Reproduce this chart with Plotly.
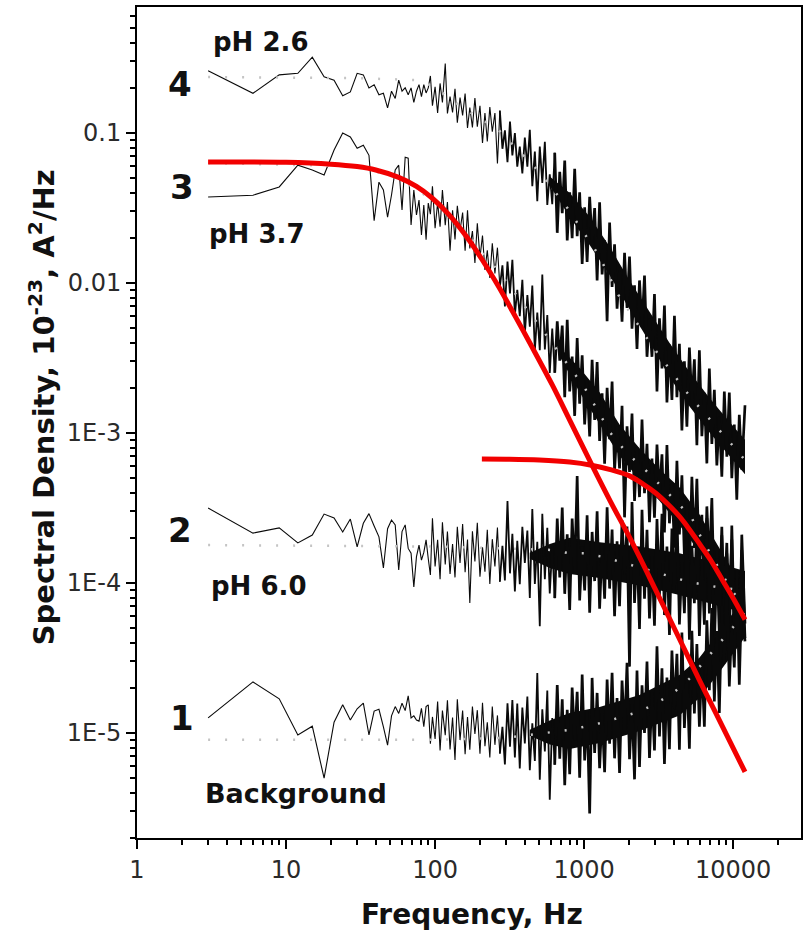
import plotly.graph_objects as go

# ---------------- data ----------------
FREQ_LOW = [3, 6, 9, 12, 15, 18, 21, 24, 27, 30, 33, 36, 39, 42, 45, 48, 51, 54, 57, 60,
            63, 66, 69, 72, 75, 78, 81, 84, 87, 90]
FREQ_HIGH = [93, 96, 100, 104, 108, 112, 117, 121, 126, 131, 136, 141, 147, 153, 159, 165, 171, 178, 185, 192,
             200, 208, 216, 224, 233, 242, 252, 262, 272, 283, 294, 306, 318, 330, 343, 356, 370, 385, 400, 416,
             432, 449, 467, 485, 504, 524, 545, 566, 588, 611, 635, 660, 686, 713, 741, 770, 800, 831, 864, 898,
             933, 970, 1008, 1047, 1089, 1131, 1176, 1222, 1270, 1320, 1372, 1426, 1482, 1540, 1600, 1663, 1728, 1796, 1867, 1940,
             2016, 2095, 2178, 2263, 2352, 2445, 2541, 2641, 2744, 2852, 2964, 3081, 3202, 3328, 3458, 3594, 3735, 3882, 4035, 4193,
             4358, 4529, 4707, 4892, 5084, 5284, 5492, 5707, 5932, 6165, 6407, 6659, 6920, 7192, 7475, 7769, 8074, 8391, 8721, 9064,
             9420, 9790, 10175, 10575, 10990, 11422, 12000]

# curve 4, pH 2.6
PH26_LOW = [0.26, 0.184, 0.244, 0.25, 0.32, 0.237, 0.225, 0.177, 0.188, 0.25, 0.244, 0.2, 0.21, 0.18, 0.184,
            0.147, 0.19, 0.17, 0.225, 0.19, 0.2, 0.18, 0.2, 0.16, 0.19, 0.21, 0.175, 0.21, 0.185, 0.2]
PH26_HIGH = [0.24, 0.152, 0.203, 0.136, 0.214, 0.16, 0.29, 0.135, 0.175, 0.137,
             0.197, 0.117, 0.172, 0.131, 0.183, 0.108, 0.148, 0.109, 0.171, 0.11,
             0.152, 0.0857, 0.136, 0.0877, 0.149, 0.102, 0.136, 0.0627, 0.141, 0.0785,
             0.104, 0.0638, 0.119, 0.0708, 0.1, 0.0596, 0.0813, 0.0537, 0.0933, 0.0596,
             0.105, 0.0442, 0.0752, 0.0351, 0.0813, 0.0465, 0.0875, 0.0331, 0.0531, 0.0335,
             0.0738, 0.0216, 0.0552, 0.0292, 0.0655, 0.0192, 0.0403, 0.0199, 0.0577, 0.0205,
             0.0402, 0.0134, 0.0319, 0.0138, 0.0376, 0.0185, 0.0316, 0.0104, 0.0345, 0.0114,
             0.0193, 0.00557, 0.0253, 0.00942, 0.0181, 0.00675, 0.0121, 0.00553, 0.0159, 0.00681,
             0.015, 0.00496, 0.00964, 0.00363, 0.0104, 0.00508, 0.0112, 0.00322, 0.00581, 0.00322,
             0.00843, 0.00189, 0.00582, 0.00269, 0.00708, 0.0016, 0.00389, 0.00166, 0.00605, 0.00173,
             0.00393, 0.00104, 0.00301, 0.0011, 0.00371, 0.0016, 0.0031, 0.000828, 0.00356, 0.000951,
             0.00185, 0.000627, 0.00269, 0.000846, 0.00194, 0.000608, 0.00129, 0.000512, 0.00189, 0.000695,
             0.00186, 0.000499, 0.00114, 0.000359, 0.00132, 0.00057, 0.00153]

# curve 3, pH 3.7
PH37_LOW = [0.0374, 0.0385, 0.0437, 0.061, 0.0567, 0.0525, 0.077, 0.1, 0.094, 0.079, 0.083, 0.071, 0.026, 0.047, 0.0417,
            0.0275, 0.0386, 0.0567, 0.061, 0.0307, 0.069, 0.068, 0.0244, 0.0417, 0.0284, 0.0357, 0.0209, 0.0331, 0.0194, 0.0341]
PH37_HIGH = [0.0288, 0.0442, 0.0232, 0.0343, 0.0237, 0.0417, 0.0243, 0.0347, 0.0164, 0.0305,
             0.0195, 0.0327, 0.0224, 0.0295, 0.0164, 0.0305, 0.017, 0.0222, 0.0136, 0.025,
             0.0148, 0.0207, 0.0122, 0.0165, 0.0108, 0.0184, 0.0116, 0.0172, 0.00944, 0.0131,
             0.00698, 0.0139, 0.00851, 0.0143, 0.00614, 0.00902, 0.00601, 0.0105, 0.00454, 0.0083,
             0.00512, 0.00962, 0.00356, 0.00635, 0.00357, 0.0114, 0.0036, 0.00611, 0.00251, 0.00497,
             0.00252, 0.00555, 0.00304, 0.0052, 0.00173, 0.00569, 0.00189, 0.00323, 0.0013, 0.0043,
             0.00157, 0.0033, 0.00114, 0.00222, 0.000947, 0.00308, 0.00122, 0.00297, 0.000884, 0.00184,
             0.000624, 0.002, 0.000908, 0.0022, 0.000564, 0.0011, 0.000581, 0.00152, 0.000274, 0.00111,
             0.000551, 0.00135, 0.000352, 0.000804, 0.000374, 0.00123, 0.000397, 0.000846, 0.000254, 0.000675,
             0.000272, 0.000836, 0.000389, 0.00072, 0.000217, 0.00083, 0.00025, 0.00046, 0.000172, 0.000653,
             0.000211, 0.000522, 0.000149, 0.000337, 0.000124, 0.000511, 0.000171, 0.000495, 0.000117, 0.000285,
             7.98e-5, 0.000324, 0.000128, 0.000369, 7.31e-5, 0.000163, 7.62e-5, 0.000237, 4.66e-5, 0.000158,
             6.76e-5, 0.000195, 3.86e-5, 0.000102, 4.02e-5, 0.000166, 4.29e-5]

# curve 2, pH 6.0
PH60_LOW = [3.16e-4, 2.15e-4, 2.33e-4, 1.85e-4, 2.09e-4, 2.88e-4, 2.71e-4, 2.19e-4, 2.67e-4, 1.74e-4,
            2.5e-4, 2.9e-4, 2.4e-4, 2.03e-4, 1.26e-4, 2.3e-4, 2.63e-4, 2.44e-4, 1.22e-4, 2.2e-4,
            2.44e-4, 1.7e-4, 1.58e-4, 9.4e-5, 1.5e-4, 1.79e-4, 1.42e-4, 1.6e-4, 1.94e-4, 1.45e-4]
PH60_HIGH = [1.13e-4, 2.7e-4, 1.29e-4, 1.94e-4, 1.06e-4, 2.54e-4, 1.33e-4, 2.2e-4, 1.15e-4, 1.82e-4,
             1.09e-4, 2.37e-4, 1.36e-4, 2.47e-4, 1.18e-4, 1.95e-4, 7.36e-5, 2.21e-4, 1.39e-4, 2.52e-4,
             1.1e-4, 1.73e-4, 1.19e-4, 2.26e-4, 9.86e-5, 1.96e-4, 1.29e-4, 2.34e-4, 1.02e-4, 1.77e-4,
             1.04e-4, 3.52e-4, 1.16e-4, 2.13e-4, 8.79e-5, 1.91e-4, 9.8e-5, 2.37e-4, 1.36e-4, 2.24e-4,
             7.94e-5, 3.11e-4, 9.84e-5, 1.88e-4, 5.15e-5, 2.89e-4, 1.06e-4, 2.33e-4, 8.51e-5, 1.75e-4,
             7.93e-5, 2.69e-4, 1.09e-4, 3.19e-4, 8.47e-5, 2.11e-4, 6.61e-5, 2.69e-4, 1.17e-4, 5.16e-4,
             7.64e-5, 1.74e-4, 8.91e-5, 2.83e-4, 6.34e-5, 2.19e-4, 1.03e-4, 3.01e-4, 6.75e-5, 1.81e-4,
             7.87e-5, 3.2e-4, 9.18e-5, 2.27e-4, 6.0e-5, 1.9e-4, 7.0e-5, 2.62e-4, 1.14e-4, 2.38e-4,
             2.77e-5, 3.47e-4, 7.35e-5, 1.74e-4, 4.93e-5, 3.08e-4, 7.87e-5, 2.26e-4, 5.81e-5, 1.51e-4,
             5.19e-5, 2.67e-4, 8.28e-5, 2.89e-4, 6.11e-5, 1.75e-4, 4.5e-5, 2.31e-4, 8.71e-5, 3.04e-4,
             5.3e-5, 1.38e-4, 6.3e-5, 2.42e-4, 4.19e-5, 1.77e-4, 7.33e-5, 2.55e-4, 4.44e-5, 1.4e-4,
             5.27e-5, 2.7e-4, 6.27e-5, 1.79e-4, 3.78e-5, 1.45e-4, 4.49e-5, 2.08e-4, 7.83e-5, 1.85e-4,
             3.9e-5, 2.42e-4, 5.09e-5, 1.21e-4, 3.39e-5, 2.1e-4, 5.37e-5]

# curve 1, Background
BKG_LOW = [1.26e-5, 2.19e-5, 1.69e-5, 9.7e-6, 1.11e-5, 5.0e-6, 1.18e-5, 1.54e-5, 1.22e-5, 1.45e-5,
           1.58e-5, 9.7e-6, 1.4e-5, 1.44e-5, 1.1e-5, 8.3e-6, 1.3e-5, 1.5e-5, 1.35e-5, 1.58e-5,
           1.41e-5, 1.77e-5, 1.26e-5, 1.3e-5, 1.22e-5, 1.2e-5, 1.46e-5, 1.1e-5, 1.5e-5, 1.54e-5]
BKG_HIGH = [8.49e-6, 1.28e-5, 9.12e-6, 1.62e-5, 7.64e-6, 1.41e-5, 9.68e-6, 1.65e-5, 7.78e-6, 1.27e-5,
            6.62e-6, 1.68e-5, 8.97e-6, 1.41e-5, 7.21e-6, 1.28e-5, 7.74e-6, 1.5e-5, 9.84e-6, 1.42e-5,
            7.28e-6, 1.59e-5, 8.17e-6, 1.18e-5, 6.86e-6, 1.5e-5, 8.34e-6, 1.31e-5, 7.29e-6, 1.1e-5,
            6.17e-6, 1.58e-5, 8.11e-6, 1.66e-5, 6.86e-6, 1.57e-5, 5.81e-6, 1.48e-5, 8.53e-6, 1.75e-5,
            5.65e-6, 1.16e-5, 6.52e-6, 2.51e-5, 4.88e-6, 1.44e-5, 7.53e-6, 1.92e-5, 3.59e-6, 1.26e-5,
            6.15e-6, 2.09e-5, 6.75e-6, 1.68e-5, 4.48e-6, 1.43e-5, 5.31e-6, 2.01e-5, 8.87e-6, 1.88e-5,
            5.04e-6, 2.45e-5, 6.56e-6, 1.39e-5, 2.91e-6, 2.33e-5, 7.35e-6, 1.85e-5, 5.82e-6, 1.35e-5,
            5.48e-6, 2.27e-5, 8.49e-6, 2.52e-5, 6.78e-6, 1.71e-5, 5.41e-6, 2.24e-5, 9.89e-6, 2.94e-5,
            6.68e-6, 1.55e-5, 4.91e-6, 2.61e-5, 5.93e-6, 2.08e-5, 1.0e-5, 2.99e-5, 6.81e-6, 1.86e-5,
            7.66e-6, 3.79e-5, 9.48e-6, 2.7e-5, 6.21e-6, 2.34e-5, 7.8e-6, 3.55e-5, 1.43e-5, 3.37e-5,
            7.73e-6, 4.68e-5, 1.08e-5, 2.56e-5, 7.85e-6, 4.8e-5, 1.35e-5, 3.92e-5, 1.1e-5, 2.94e-5,
            1.1e-5, 5.64e-5, 1.93e-5, 6.82e-5, 1.62e-5, 4.78e-5, 1.36e-5, 7.02e-5, 2.92e-5, 1.04e-4,
            2.04e-5, 5.47e-5, 2.74e-5, 1.07e-4, 2.1e-5, 8.95e-5, 4.08e-5]

# solid middle of each dense band (upper / lower edge)
CORE26_F = [588, 800, 1089, 1482, 2016, 2744, 3735, 5084, 6920, 9420, 12000]
CORE26_UP = [0.0513, 0.0398, 0.0277, 0.0175, 0.0104, 0.00641, 0.004, 0.00256, 0.00172, 0.00119, 0.000902]
CORE26_LO = [0.0447, 0.0275, 0.0179, 0.0113, 0.00668, 0.00405, 0.00236, 0.00151, 0.00101, 0.0007, 0.000531]
CORE37_F = [686, 933, 1270, 1728, 2352, 3202, 4358, 5932, 8074, 12000]
CORE37_UP = [0.00372, 0.00271, 0.00187, 0.00114, 0.000791, 0.000573, 0.000435, 0.000287, 0.000171, 8.81e-5]
CORE37_LO = [0.00324, 0.00187, 0.00115, 0.000705, 0.000488, 0.000353, 0.000244, 0.000161, 9.6e-5, 4.95e-5]
CORE60_F = [432, 588, 800, 1270, 2352, 4358, 6920, 12000]
CORE60_UP = [1.59e-4, 1.82e-4, 2.0e-4, 1.87e-4, 1.75e-4, 1.58e-4, 1.4e-4, 1.2e-4]
CORE60_LO = [1.45e-4, 1.26e-4, 1.15e-4, 1.08e-4, 9.62e-5, 8.32e-5, 7.36e-5, 6.31e-5]
COREBKG_F = [432, 588, 800, 1270, 2352, 4358, 5932, 8074, 12000]
COREBKG_UP = [1.05e-5, 1.21e-5, 1.36e-5, 1.49e-5, 1.79e-5, 2.44e-5, 3.18e-5, 4.73e-5, 8.09e-5]
COREBKG_LO = [9.59e-6, 8.39e-6, 7.82e-6, 8.57e-6, 1.03e-5, 1.31e-5, 1.71e-5, 2.54e-5, 4.35e-5]

# averaged spectra (dotted grey)
AVG26_F = [3, 30, 80, 100, 150, 266, 500, 750, 1250, 1700, 2830, 5155, 10310, 12000]
AVG26_V = [0.236, 0.232, 0.225, 0.2, 0.15, 0.105, 0.055, 0.033, 0.0154, 0.0083, 0.00386, 0.00174, 0.00079, 0.00066]
AVG37_F = [3, 30, 57, 95, 160, 266, 500, 1000, 1504, 1924, 2579, 3250, 4160, 5240, 6110, 7130, 8320, 9700, 12000]
AVG37_V = [0.063, 0.06, 0.05, 0.036, 0.022, 0.012, 0.0052, 0.00203, 0.001, 0.00074, 0.000567, 0.00045, 0.000347,
           0.000275, 0.0002, 0.000154, 0.000118, 9.0e-5, 7.0e-5]
AVG60_F = [3, 100, 300, 607, 787, 1024, 1350, 1754, 2316, 3008, 3850, 5000, 6500, 8320, 11140, 12000]
AVG60_V = [1.79e-4, 1.75e-4, 1.7e-4, 1.66e-4, 1.58e-4, 1.58e-4, 1.49e-4, 1.38e-4, 1.28e-4, 1.18e-4, 1.1e-4,
           1.02e-4, 9.7e-5, 9.3e-5, 9.0e-5, 8.9e-5]
AVGBKG_F = [3, 100, 300, 811, 1310, 1754, 2316, 3054, 3970, 5155, 6500, 8190, 10000, 12000]
AVGBKG_V = [9.0e-6, 9.0e-6, 9.3e-6, 1.05e-5, 1.17e-5, 1.28e-5, 1.38e-5, 1.58e-5, 1.85e-5, 2.33e-5, 3.07e-5,
            3.98e-5, 5.09e-5, 6.4e-5]

# Lorentzian fits (red)
FIT37_F = [3, 10, 20, 30, 40, 57, 75, 95, 123, 160, 206, 266, 348, 450, 610, 800, 1120, 1500, 2080, 3000,
           4330, 6000, 8500, 12000]
FIT37_V = [0.064, 0.0638, 0.062, 0.0597, 0.0567, 0.0506, 0.044, 0.037, 0.0288, 0.0208, 0.0144, 0.0095, 0.0059,
           0.0037, 0.0021, 0.00122, 0.00062, 0.00035, 0.00019, 9.1e-5, 4.3e-5, 2.2e-5, 1.1e-5, 5.5e-6]
FIT60_F = [206, 300, 500, 800, 1120, 1500, 2000, 2500, 3000, 3650, 4330, 5000, 6000, 7000, 8500, 10000, 12000]
FIT60_V = [6.7e-4, 6.68e-4, 6.6e-4, 6.4e-4, 6.1e-4, 5.7e-4, 5.2e-4, 4.55e-4, 4.0e-4, 3.35e-4, 2.8e-4, 2.33e-4,
           1.8e-4, 1.44e-4, 1.04e-4, 7.9e-5, 5.7e-5]

X_TICKS = [1, 10, 100, 1000, 10000]
X_TICKTEXT = ["1", "10", "100", "1000", "10000"]
Y_TICKS = [0.1, 0.01, 0.001, 1e-4, 1e-5]
Y_TICKTEXT = ["0.1", "0.01", "1E-3", "1E-4", "1E-5"]

# ---------------- figure ----------------
W, H = 804, 936
PL, PR, PT, PB = 137, 803, 7, 838


def px(x):
    return (x - PL) / (PR - PL)


def py(y):
    return (PB - y) / (PB - PT)


fig = go.Figure()

for cf, cu, cl in ((CORE26_F, CORE26_UP, CORE26_LO), (CORE37_F, CORE37_UP, CORE37_LO),
                   (CORE60_F, CORE60_UP, CORE60_LO), (COREBKG_F, COREBKG_UP, COREBKG_LO)):
    fig.add_trace(go.Scatter(x=cf + cf[::-1], y=cu + cl[::-1], mode="lines", fill="toself",
                             fillcolor="#0a0a0a", line=dict(width=0, color="#0a0a0a"),
                             hoverinfo="skip", showlegend=False))


def add_line(xs, ys, width):
    fig.add_trace(go.Scatter(x=xs, y=ys, mode="lines",
                             line=dict(color="#0a0a0a", width=width, simplify=False),
                             hoverinfo="skip", showlegend=False))


S1, S2 = 28, 50  # where the spectrum turns into a dense band
for low, high in ((PH26_LOW, PH26_HIGH), (PH37_LOW, PH37_HIGH), (PH60_LOW, PH60_HIGH), (BKG_LOW, BKG_HIGH)):
    add_line(FREQ_LOW + FREQ_HIGH[:S1 + 1], low + high[:S1 + 1], 1.1)
    add_line(FREQ_HIGH[S1:S2 + 1], high[S1:S2 + 1], 1.8)
    add_line(FREQ_HIGH[S2:], high[S2:], 2.7)

for fx, fv in ((AVG26_F, AVG26_V), (AVG37_F, AVG37_V), (AVG60_F, AVG60_V), (AVGBKG_F, AVGBKG_V)):
    fig.add_trace(go.Scatter(x=fx, y=fv, mode="lines",
                             line=dict(color="#c4c4c4", width=2.5, dash="2px,15px"),
                             hoverinfo="skip", showlegend=False))

for fx, fv in ((FIT37_F, FIT37_V), (FIT60_F, FIT60_V)):
    fig.add_trace(go.Scatter(x=fx, y=fv, mode="lines",
                             line=dict(color="#f20000", width=5, shape="spline"),
                             hoverinfo="skip", showlegend=False))

minor_x = [m * 10 ** e for e in range(0, 5) for m in range(2, 10)]
minor_y = [m * 10 ** e for e in range(-6, 0) for m in range(2, 10)]

tickfont = dict(family="DejaVu Sans", size=24, color="#2a2a2a")
common = dict(type="log", showgrid=False, zeroline=False, showline=True, linecolor="black",
              linewidth=2, mirror=True, ticks="outside", ticklen=9, tickwidth=2, tickcolor="black",
              tickfont=tickfont)

fig.update_xaxes(range=[0, 4.455], tickmode="array", tickvals=X_TICKS, ticktext=X_TICKTEXT,
                 minor=dict(tickmode="array", tickvals=minor_x, ticks="outside", ticklen=5,
                            tickwidth=1.5, tickcolor="black"), **common)
fig.update_yaxes(range=[-5.7, -0.16], tickmode="array", tickvals=Y_TICKS, ticktext=Y_TICKTEXT,
                 minor=dict(tickmode="array", tickvals=minor_y, ticks="outside", ticklen=5,
                            tickwidth=1.5, tickcolor="black"), **common)

bold = "DejaVu Sans"
ann = []
for txt, x, y, size in (("4", 180, 84, 34), ("3", 182, 187, 34), ("2", 180, 530, 34), ("1", 182, 718, 34),
                        ("pH 2.6", 261, 42, 26), ("pH 3.7", 257, 234, 26), ("pH 6.0", 259, 586, 26),
                        ("Background", 296, 793, 27)):
    ann.append(dict(text="<b>%s</b>" % txt, x=px(x), y=py(y), xref="paper", yref="paper",
                    showarrow=False, xanchor="center", yanchor="middle",
                    font=dict(family=bold, size=size, color="#111111")))
ann.append(dict(text="<b>Frequency, Hz</b>", x=px(473), y=py(914), xref="paper", yref="paper",
                showarrow=False, xanchor="center", yanchor="middle",
                font=dict(family=bold, size=28, color="#111111")))
ann.append(dict(text="<b>Spectral Density, 10<sup>-23</sup>, A<sup>2</sup>/Hz</b>", x=px(42), y=py(407),
                xref="paper", yref="paper", showarrow=False, xanchor="center", yanchor="middle",
                textangle=-90, font=dict(family=bold, size=29, color="#111111")))

fig.update_layout(width=W, height=H, margin=dict(l=PL, r=W - PR, t=PT, b=H - PB),
                  paper_bgcolor="white", plot_bgcolor="white", annotations=ann, showlegend=False)

fig.write_html("out.html")
